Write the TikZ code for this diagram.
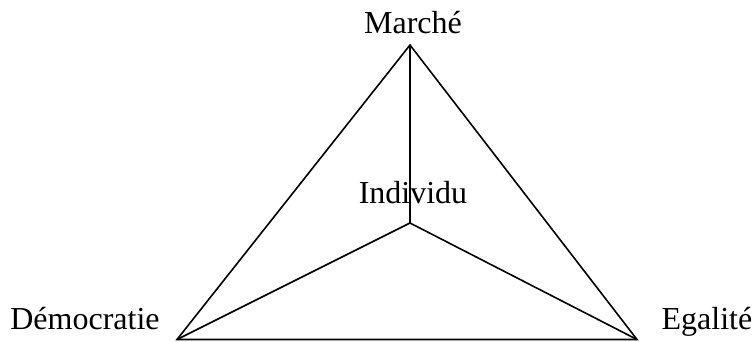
\documentclass[tikz,border=0pt]{standalone}
\usepackage{fontspec}
\setmainfont{Liberation Serif}
\begin{document}
\begin{tikzpicture}[x=1pt,y=-1pt,
  lbl/.style={font=\fontsize{32}{38}\selectfont, inner sep=0pt, anchor=base},
  edge/.style={line width=1.6pt, line join=miter}]
\useasboundingbox (0,0) rectangle (753,341);
\coordinate (M) at (410,45);
\coordinate (D) at (177,339.5);
\coordinate (E) at (637,339.5);
\coordinate (I) at (410,223);
\draw[edge] (M) -- (D) -- (E) -- cycle;
\draw[edge] (M) -- (I) (D) -- (I) -- (E);
\node[lbl] (tm) at (413,33) {Marché};
\node[lbl] (ti) at (413,203) {Individu};
\node[lbl] (td) at (85,329) {Démocratie};
\node[lbl] (te) at (707,329) {Egalité};
\end{tikzpicture}
\end{document}
